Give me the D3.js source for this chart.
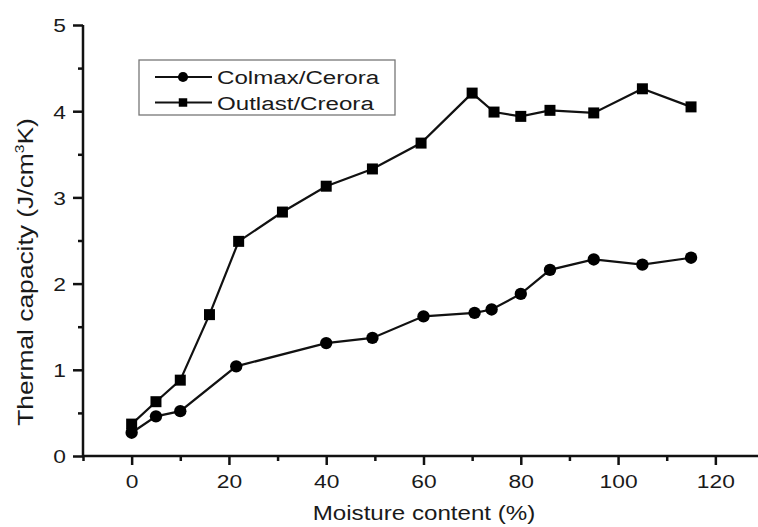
<!DOCTYPE html>
<html>
<head>
<meta charset="utf-8">
<script src="https://cdn.jsdelivr.net/npm/d3@7"></script>
<style>
  body { margin: 0; background: #fff; }
  text { font-family: "Liberation Sans", Arial, sans-serif; fill: #1a1a1a; }
</style>
</head>
<body>
<div id="main-chart"></div>
<script>
const width = 758, height = 527;

// data
const colmaxX = [0, 5, 10, 21.5, 40, 49.5, 60, 70.5, 74, 80, 86, 95, 105, 115];
const colmaxY = [0.27, 0.46, 0.52, 1.04, 1.31, 1.37, 1.62, 1.66, 1.70, 1.88, 2.16, 2.28, 2.22, 2.30];
const outlastX = [0, 5, 10, 16, 22, 31, 40, 49.5, 59.5, 70, 74.5, 80, 86, 95, 105, 115];
const outlastY = [0.37, 0.63, 0.88, 1.64, 2.49, 2.83, 3.13, 3.33, 3.63, 4.21, 3.99, 3.94, 4.01, 3.98, 4.26, 4.05];
const xMajor = [0, 20, 40, 60, 80, 100, 120];
const xMinor = [-10, 10, 30, 50, 70, 90, 110, 130];
const yMajor = [0, 1, 2, 3, 4, 5];
const yMinor = [0.5, 1.5, 2.5, 3.5, 4.5];
const seriesNames = ["Colmax/Cerora", "Outlast/Creora"];

const svg = d3.select("#main-chart")
    .append("svg")
    .attr("width", width)
    .attr("height", height);

const x = d3.scaleLinear().domain([-10, 130]).range([83, 764]);
const y = d3.scaleLinear().domain([0, 5]).range([456, 25]);

const axisW = 2.5;

// x axis: minor first, then major with labels
svg.append("g")
    .attr("transform", `translate(0,${y(0)})`)
    .call(d3.axisBottom(x).tickValues(xMinor).tickSize(5).tickSizeOuter(0).tickFormat(""))
    .call(g => g.select(".domain").remove());

svg.append("g")
    .attr("transform", `translate(0,${y(0)})`)
    .call(d3.axisBottom(x).tickValues(xMajor).tickSize(9).tickSizeOuter(0).tickFormat(d3.format("d")))
    .call(g => g.select(".domain").remove())
    .call(g => g.selectAll("text")
        .attr("y", 32).attr("dy", null)
        .attr("font-size", 19)
        .attr("transform", "scale(1.2,1)"));

// y axis
svg.append("g")
    .attr("transform", `translate(${x(-10)},0)`)
    .call(d3.axisLeft(y).tickValues(yMinor).tickSize(5).tickSizeOuter(0).tickFormat(""))
    .call(g => g.select(".domain").remove());

svg.append("g")
    .attr("transform", `translate(${x(-10)},0)`)
    .call(d3.axisLeft(y).tickValues(yMajor).tickSize(10).tickSizeOuter(0).tickFormat(d3.format("d")))
    .call(g => g.select(".domain").remove())
    .call(g => g.selectAll("text")
        .attr("x", -17 / 1.2)
        .attr("dy", "0.36em")
        .attr("font-size", 19)
        .attr("transform", "scale(1.2,1)"));

svg.selectAll(".tick line").attr("stroke", "#111").attr("stroke-width", axisW);

// axis lines
svg.append("line")
    .attr("x1", x(-10) - 1).attr("x2", width)
    .attr("y1", y(0)).attr("y2", y(0))
    .attr("stroke", "#111").attr("stroke-width", axisW);
svg.append("line")
    .attr("x1", x(-10)).attr("x2", x(-10))
    .attr("y1", y(0) + 1).attr("y2", y(5))
    .attr("stroke", "#111").attr("stroke-width", axisW);

// axis titles
svg.append("text")
    .attr("transform", `translate(424,520) scale(1.15,1)`)
    .attr("text-anchor", "middle")
    .attr("font-size", 21)
    .text("Moisture content (%)");

const yTitle = svg.append("text")
    .attr("transform", `translate(33,272) rotate(-90) scale(1.2,1)`)
    .attr("text-anchor", "middle")
    .attr("font-size", 22);
yTitle.append("tspan").text("Thermal capacity (J/cm");
yTitle.append("tspan").attr("font-size", 13).attr("dy", -9).text("3");
yTitle.append("tspan").attr("dy", 9).text("K)");

// series
const colmax = colmaxX.map((v, i) => ({ x: v, y: colmaxY[i] }));
const outlast = outlastX.map((v, i) => ({ x: v, y: outlastY[i] }));

const line = d3.line().x(d => x(d.x)).y(d => y(d.y));
const circle = d3.symbol(d3.symbolCircle, 120);
const square = d3.symbol(d3.symbolSquare, 121);

[[outlast, square], [colmax, circle]].forEach(([data, sym]) => {
    svg.append("path")
        .datum(data)
        .attr("d", line)
        .attr("fill", "none")
        .attr("stroke", "#111")
        .attr("stroke-width", 2.2);
    svg.selectAll(null)
        .data(data)
        .enter().append("path")
        .attr("transform", d => `translate(${x(d.x)},${y(d.y)})`)
        .attr("d", sym)
        .attr("fill", "#000");
});

// legend
const legend = svg.append("g");
legend.append("rect")
    .attr("x", 139).attr("y", 60)
    .attr("width", 256).attr("height", 55)
    .attr("fill", "#fff")
    .attr("stroke", "#777")
    .attr("stroke-width", 1.3);

const legendSyms = [d3.symbol(d3.symbolCircle, 80), d3.symbol(d3.symbolSquare, 72)];
seriesNames.forEach((name, i) => {
    const cy = 77 + i * 25.5;
    legend.append("line")
        .attr("x1", 155).attr("x2", 212)
        .attr("y1", cy).attr("y2", cy)
        .attr("stroke", "#111").attr("stroke-width", 2);
    legend.append("path")
        .attr("transform", `translate(183,${cy})`)
        .attr("d", legendSyms[i])
        .attr("fill", "#000");
    legend.append("text")
        .attr("transform", `translate(217,${cy + 7}) scale(1.27,1)`)
        .attr("font-size", 19)
        .text(name);
});
</script>
</body>
</html>
